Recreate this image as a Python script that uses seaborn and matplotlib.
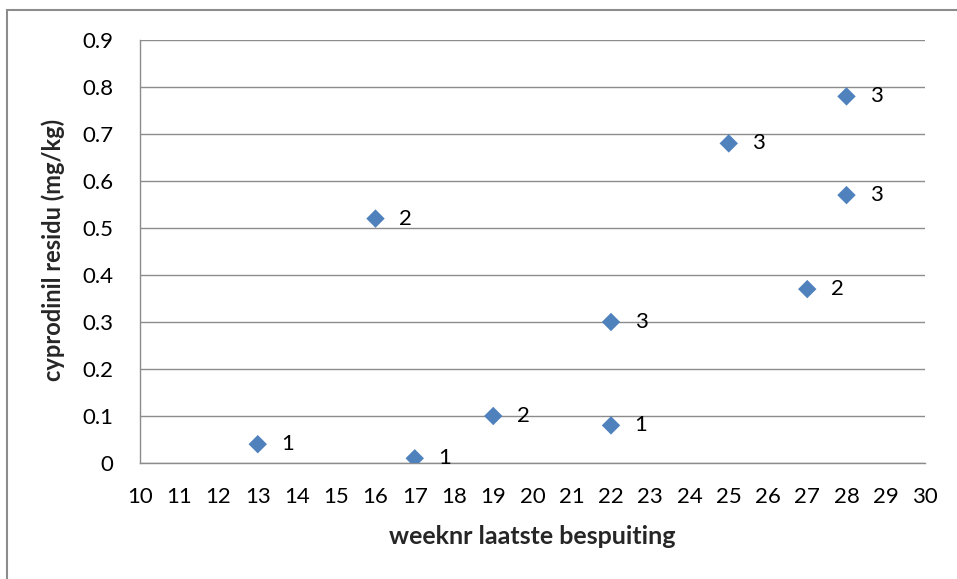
import matplotlib
matplotlib.use("Agg")
import matplotlib.pyplot as plt
import seaborn as sns
import pandas as pd
from matplotlib.patches import Rectangle

weeks = [13, 16, 17, 19, 22, 22, 25, 27, 28, 28]
residu = [0.04, 0.52, 0.01, 0.10, 0.30, 0.08, 0.68, 0.37, 0.78, 0.57]
labels = ["1", "2", "1", "2", "3", "1", "3", "2", "3", "3"]
x_ticks = list(range(10, 31))
y_ticks = [0, 0.1, 0.2, 0.3, 0.4, 0.5, 0.6, 0.7, 0.8, 0.9]
y_tick_labels = ["0", "0.1", "0.2", "0.3", "0.4", "0.5", "0.6", "0.7", "0.8", "0.9"]

df = pd.DataFrame({"week": weeks, "residu": residu, "label": labels})

sns.set_style("white")
plt.rcParams["font.family"] = ["Lato", "DejaVu Sans"]

fig = plt.figure(figsize=(9.57, 5.79), dpi=100)
ax = fig.add_axes([140 / 957, (579 - 463) / 579, (925 - 140) / 957, (463 - 40) / 579])

# outer frame (only left/top visible in the cropped reference)
fig.patches.append(Rectangle((7 / 957, -0.1), 2.0, (579 - 10) / 579 + 0.1,
                             transform=fig.transFigure, fill=False,
                             edgecolor="#8c8c8c", linewidth=1.5))

sns.scatterplot(data=df, x="week", y="residu", marker="D", s=88,
                color="#4F81BD", edgecolor="none", linewidth=0, ax=ax, zorder=3)

for xv, yv, lab in zip(weeks, residu, labels):
    ax.annotate(lab, (xv, yv), xytext=(17, 0), textcoords="offset points",
                ha="left", va="center", fontsize=16, color="black")

ax.set_xlim(10, 30)
ax.set_ylim(0, 0.9)
ax.set_xticks(x_ticks)
ax.set_yticks(y_ticks)
ax.set_yticklabels(y_tick_labels)
ax.grid(axis="y", color="#8c8c8c", linewidth=1)
ax.grid(axis="x", visible=False)
ax.set_axisbelow(True)

for side in ["top", "right"]:
    ax.spines[side].set_visible(False)
for side in ["left", "bottom"]:
    ax.spines[side].set_color("#8c8c8c")
    ax.spines[side].set_linewidth(1)

ax.tick_params(axis="both", which="major", labelsize=16, colors="#8c8c8c",
               labelcolor="black", width=1, length=6, direction="out")
ax.tick_params(axis="x", pad=11)
ax.tick_params(axis="y", pad=13)

ax.set_xlabel("weeknr laatste bespuiting", fontsize=18, fontweight="bold")
ax.set_ylabel("cyprodinil residu (mg/kg)", fontsize=17, fontweight="bold")
ax.xaxis.label.set_va("center")
ax.yaxis.label.set_va("center")
ax.xaxis.set_label_coords((532 - 140) / 785, (463 - 537) / 423)
ax.yaxis.set_label_coords((53 - 140) / 785, (463 - 250) / 423)

fig.savefig("out.png", dpi=100)
